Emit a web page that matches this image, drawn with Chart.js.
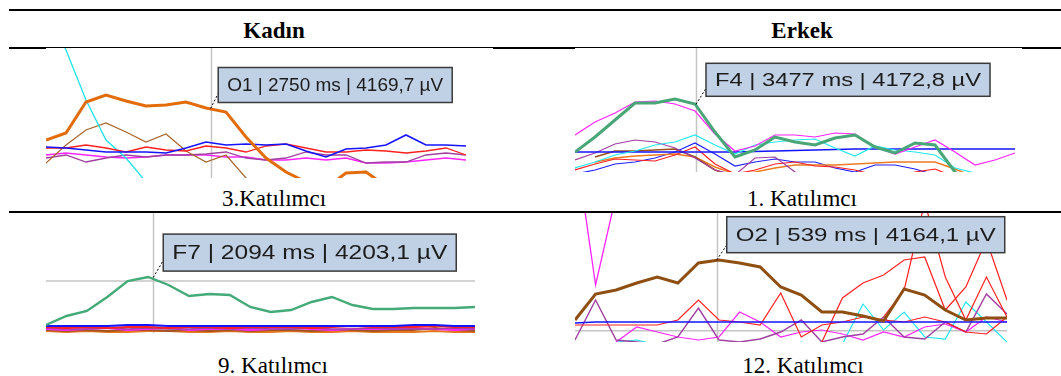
<!DOCTYPE html>
<html>
<head>
<meta charset="utf-8">
<script src="https://cdn.jsdelivr.net/npm/chart.js@4.4.1/dist/chart.umd.min.js"></script>
<style>
  body { margin: 0; background: #fff; }
  #page { position: relative; width: 1061px; height: 376px; overflow: hidden;
          font-family: "Liberation Serif", "Times New Roman", serif; color: #000; }
  .rule { position: absolute; background: #000; }
  .txt { position: absolute; width: 300px; text-align: center; font-size: 23px; line-height: 23px; white-space: nowrap; }
  .bold { font-weight: bold; }
  canvas { position: absolute; }
</style>
</head>
<body>
<div id="page">
  <div class="rule" style="left:9px;top:9px;width:1052px;height:2px"></div>
  <div class="rule" style="left:9px;top:47px;width:1052px;height:1px"></div>
  <div class="rule" style="left:9px;top:47px;width:37px;height:2px"></div>
  <div class="rule" style="left:493px;top:47px;width:82px;height:2px"></div>
  <div class="rule" style="left:1022px;top:47px;width:39px;height:2px"></div>
  <div class="rule" style="left:9px;top:211px;width:1052px;height:2px"></div>

  <div class="txt bold" style="left:124px;top:19px">Kadın</div>
  <div class="txt bold" style="left:652px;top:19px">Erkek</div>

  <canvas id="p1" width="447" height="130" style="left:46px;top:48px"></canvas>
  <canvas id="p2" width="447" height="124" style="left:575px;top:48px"></canvas>
  <canvas id="p3" width="430" height="120" style="left:46px;top:213px"></canvas>
  <canvas id="p4" width="432" height="129" style="left:575px;top:213px"></canvas>

  <div class="txt" style="left:124px;top:187px">3.Katılımcı</div>
  <div class="txt" style="left:652px;top:187px">1. Katılımcı</div>
  <div class="txt" style="left:123px;top:354px">9. Katılımcı</div>
  <div class="txt" style="left:653px;top:354px">12. Katılımcı</div>
</div>
<script>
// cursor readouts
const tipChannel = ['O1', 'F4', 'F7', 'O2'];
const tipTime = [2750, 3477, 2094, 539];
const tipValue = ['4169,7', '4172,8', '4203,1', '4164,1'];

// panel 1 - Kadın, 3. katılımcı (amplitudes above panel floor)
const p1O1 = [38, 45, 76, 83, 77, 72, 73, 76, 70, 66, 41, 20, 6, -4, -10, 5, 6, -8, -15, -15, -15, -15];
const p1Cyan = [168, 128, 78, 38, 20, -4, -30, null, null, null, null, null, null, null, null, null, null, null, null, null, null, null];
const p1Brown = [15, 33, 48, 55, 46, 36, 44, 27, 16, 23, 0, -12, null, null, null, null, null, null, null, null, null, null];
const p1Blue = [31, 30, 28, 26, 26, 26, 25, 30, 36, 33, 34, 33, 34, 27, 21, 29, 30, 33, 43, 33, 33, 32];
const p1Red = [30, 30, 33, 30, 26, 31, 28, 27, 32, 30, 26, 32, 34, 30, 26, 26, 28, 27, 25, 27, 30, 23];
const p1Purple = [20, 23, 16, 20, 23, 21, 23, 23, 24, 26, 20, 18, 20, 26, 23, 23, 15, 16, 16, 23, 25, 23];
const p1Magenta = [23, 25, 23, 21, 20, 21, 23, 23, 23, 21, 21, 18, 18, 20, 18, 20, 15, 15, 16, 18, 20, 18];

// panel 2 - Erkek, 1. katılımcı
const p2F4 = [20, 35, 52, 69, 69, 73, 68, 40, 15, 22, 35, 30, 27, 34, 37, 25, 19, 29, 27, 0, -13, null, null];
const p2Magenta = [37, 50, 59, 70, 71, 68, 61, 38, 21, 26, 37, 37, 35, 39, 38, 25, 18, 25, 32, 20, 7, 12, 19];
const p2Blue = [20, 20, 20, 20, 20, 20, 20, 20, 20, 20.5, 21, 21.5, 22, 22.5, 23, 23, 23, 23, 23, 23, 23, 23, 23];
const p2Cyan = [4, 10, 17, 21, 27, 30, 37, 27, 18, 27, 30, 32, 33, 24, 16, 26, 22, 20, 17, 4, -1, null, null];
const p2Purple = [12, 19, 28, 32, 30, 24, 14, 2, -3, 14, 15, 0, -6, null, null, null, null, null, null, null, null, null, null];
const p2Brown = [null, 15, 21, 21, 22, 23, 15, 2, -5, null, null, null, null, null, null, null, null, null, null, null, null, null, null];
const p2Red = [2, 8, 13, 12, 11, 17, 25, 8, -2, 2, 8, 10, 6, 5, 2, -3, -5, 0, 3, -5, null, null, null];
const p2Orange = [null, 10, 14, 16, 17, 18, 15, 5, -2, 0, 4, 7, 7, 7, 8, 9, 10, 10, 10, 3, -5, null, null];
const p2Blue2 = [-2, 2, 8, 10, 14, 20, 29, 18, 6, 10, 13, 10, 10, 4, 0, 7, 7, 3, -3, null, null, null, null];

// panel 3 - Kadın, 9. katılımcı
const p3F7 = [8, 17, 22, 36, 52, 56, 48, 37, 39, 38, 26, 21, 23, 31, 36, 28, 24, 24, 25, 25, 25, 26];
const p3Blue = [7, 7, 7, 7, 8, 8, 7, 7, 7, 7, 7, 7, 7, 7, 7, 7, 7, 7, 8, 8, 7, 7];
const p3Red = [6, 5, 6, 5, 6, 6, 5, 6, 6, 5, 6, 6, 6, 5, 6, 7, 6, 6, 6, 7, 6, 6];
const p3Purple = [5, 4, 4, 5, 4, 5, 4, 4, 5, 4, 5, 4, 4, 5, 4, 4, 5, 4, 4, 4, 5, 4];
const p3Magenta = [4, 3, 4, 5, 3, 4, 5, 3, 4, 4, 3, 4, 5, 4, 3, 4, 4, 4, 5, 4, 3, 4];
const p3Brown = [3, 2, 3, 2, 3, 3, 2, 3, 2, 3, 2, 3, 3, 2, 3, 3, 2, 3, 3, 5, 3, 2];
const p3Orange = [2, 1, 2, 1, 1, 2, 2, 1, 1, 2, 1, 1, 2, 1, 1, 2, 1, 1, 1, 2, 1, 1];

// panel 4 - Erkek, 12. katılımcı
const p4O2 = [22, 48, 52, 59, 65, 59, 79, 82, 79, 75, 55, 47, 30, 30, 26, 21, 53, 47, 32, 22, 24, 24];
const p4Blue = [19, 20, 20, 20, 20, 20, 20, 20, 20, 20, 20, 20, 20, 20, 20, 20, 20, 20, 20, 20, 20, 20];
const p4Magenta = [200, 57, 147, null, null, null, null, null, null, null, null, null, null, null, null, null, null, null, null, null, null, null];
const p4Magenta2 = [null, null, 0, 15, 10, 5, 2, 5, 30, 20, 5, 10, 12, 8, 2, 10, 5, 15, 18, 10, 25, 20];
const p4Purple = [2, 42, 2, 0, -2, 5, 34, 2, 0, 3, 10, 22, 0, 5, 8, 25, 5, 3, 20, 10, 48, 28];
const p4Red1 = [17, 17, 17, 17, 17, 22, 42, 22, 20, 17, 49, 5, 17, 20, 25, 22, 20, 25, 20, 10, 8, 25];
const p4Red2 = [null, null, null, null, null, null, null, null, null, null, null, null, 0, 44, 59, 67, 82, 85, 32, 55, 102, 42];
const p4Red3 = [null, null, null, null, null, null, null, null, null, null, null, null, null, null, null, 25, 52, 140, 65, 22, 65, 25];
const p4Cyan = [null, null, 0, 2, -3, -6, -6, -6, -6, -2, -6, 0, -6, -2, 38, 12, 30, 5, 3, 40, 20, 0];

// cursor line, readout box and grid line
const markerPlugin = {
  id: 'eegMarker',
  beforeDatasetsDraw(chart, args, o) {
    const { ctx, chartArea: a, scales: { x, y } } = chart;
    ctx.save();
    ctx.strokeStyle = '#c4c4c4';
    ctx.lineWidth = 1.5;
    if (o.hLine != null) {
      const py = y.getPixelForValue(o.hLine);
      ctx.beginPath();
      ctx.moveTo(a.left, py);
      ctx.lineTo(x.getPixelForValue(o.hEnd), py);
      ctx.stroke();
    }
    const px = Math.round(x.getPixelForValue(o.cursor.x)) + 0.5;
    ctx.beginPath();
    ctx.moveTo(px, a.top);
    ctx.lineTo(px, a.bottom);
    ctx.stroke();
    ctx.restore();
  },
  afterDraw(chart, args, o) {
    const { ctx, scales: { x, y } } = chart;
    const ax = x.getPixelForValue(o.cursor.x), ay = y.getPixelForValue(o.cursor.y);
    const b = o.box;
    const bx = ax + b.dx, by = ay + b.dy;
    ctx.save();
    ctx.setLineDash([2, 2]);
    ctx.strokeStyle = '#000';
    ctx.lineWidth = 1;
    ctx.beginPath();
    ctx.moveTo(ax, ay);
    ctx.lineTo(bx, ay + b.link);
    ctx.stroke();
    ctx.setLineDash([]);
    ctx.fillStyle = '#c0d1e6';
    ctx.fillRect(bx, by, b.w, b.h);
    ctx.strokeStyle = '#3a3a3a';
    ctx.lineWidth = 1.5;
    ctx.strokeRect(bx, by, b.w, b.h);
    ctx.font = b.size + 'px "Liberation Sans", Arial, sans-serif';
    ctx.fillStyle = '#1c1c1c';
    ctx.textBaseline = 'middle';
    const tw = ctx.measureText(o.text).width;
    ctx.translate(bx + 9, by + b.h / 2 + 1);
    ctx.scale((b.w - 18) / tw, 1);
    ctx.fillText(o.text, 0, 0);
    ctx.restore();
  }
};

function line(values, color, width) {
  return {
    data: values.map((v, i) => ({ x: i, y: v })),
    borderColor: color, borderWidth: width,
    pointRadius: 0, tension: 0, fill: false, spanGaps: false
  };
}

function tipText(i) {
  return tipChannel[i] + ' | ' + tipTime[i] + ' ms | ' + tipValue[i] + ' µV';
}

function drawPanel(id, xMax, yMax, datasets, marker) {
  new Chart(document.getElementById(id), {
    type: 'line',
    data: { datasets },
    options: {
      responsive: false,
      animation: false,
      events: [],
      layout: { padding: 0 },
      scales: {
        x: { type: 'linear', display: false, min: 0, max: xMax },
        y: { display: false, min: 0, max: yMax }
      },
      plugins: { legend: { display: false }, tooltip: { enabled: false }, eegMarker: marker }
    },
    plugins: [markerPlugin]
  });
}

drawPanel('p1', 22.35, 130, [
  line(p1O1, '#e36c0a', 3),
  line(p1Blue, '#1414ff', 1.6),
  line(p1Red, '#ff2020', 1.3),
  line(p1Cyan, '#1ee3e8', 1.3),
  line(p1Brown, '#a8662c', 1.2),
  line(p1Purple, '#a040a0', 1.3),
  line(p1Magenta, '#ff24ff', 1.3)
], { cursor: { x: 8.23, y: 69.5 }, text: tipText(0),
     box: { dx: 7.6, dy: -41, w: 234, h: 35, link: -15, size: 18 } });

drawPanel('p2', 22.35, 124, [
  line(p2F4, '#48a677', 3),
  line(p2Magenta, '#ff24ff', 1.2),
  line(p2Cyan, '#22e8ee', 1.2),
  line(p2Blue, '#1414ff', 1.4),
  line(p2Purple, '#a040a0', 1.2),
  line(p2Brown, '#9a5018', 1.6),
  line(p2Red, '#ff2020', 1.2),
  line(p2Orange, '#ee7a22', 1.4),
  line(p2Blue2, '#2020ff', 1.2)
], { cursor: { x: 6.05, y: 67.7 }, text: tipText(1),
     box: { dx: 10, dy: -41, w: 284, h: 33, link: -16, size: 18 } });

drawPanel('p3', 21.05, 120, [
  line(p3F7, '#44aa77', 2.4),
  line(p3Blue, '#1414ff', 2),
  line(p3Red, '#ff2020', 2),
  line(p3Purple, '#a040a0', 1.6),
  line(p3Magenta, '#ff24ff', 1.8),
  line(p3Brown, '#a0561e', 1.8),
  line(p3Orange, '#e8761c', 2)
], { cursor: { x: 5.25, y: 55.5 }, hLine: 52, hEnd: 21, text: tipText(2),
     box: { dx: 10, dy: -43.4, w: 293, h: 37, link: -17, size: 20 } });

drawPanel('p4', 21, 129, [
  line(p4O2, '#8f4f12', 3),
  line(p4Blue, '#1414ff', 1.6),
  line(p4Red1, '#ff2020', 1.2),
  line(p4Red2, '#ff2020', 1.2),
  line(p4Red3, '#ff2020', 1.2),
  line(p4Purple, '#a040a0', 1.4),
  line(p4Magenta, '#ff24ff', 1.3),
  line(p4Magenta2, '#ff24ff', 1.2),
  line(p4Cyan, '#22e8ee', 1.2)
], { cursor: { x: 6.89, y: 82 }, hLine: 11.3, hEnd: 21, text: tipText(3),
     box: { dx: 10, dy: -43.3, w: 278, h: 36, link: -15, size: 18 } });
</script>
</body>
</html>
